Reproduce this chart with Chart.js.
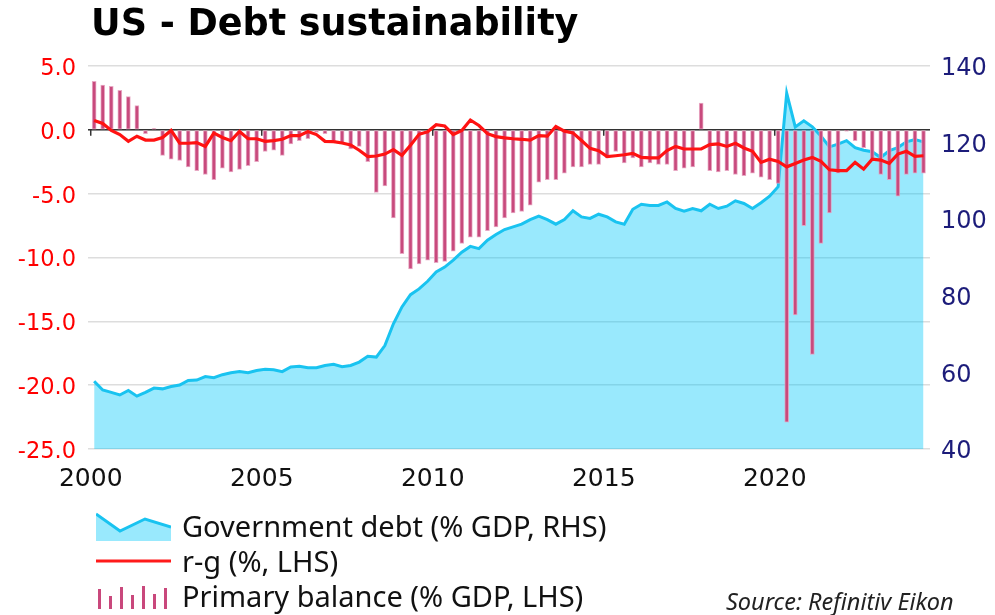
<!DOCTYPE html>
<html>
<head>
<meta charset="utf-8">
<script src="https://cdn.jsdelivr.net/npm/chart.js@4.4.1/dist/chart.umd.min.js"></script>
<style>
body { margin: 0; background: #fff; }
#wrap { position: relative; width: 995px; height: 615px; overflow: hidden; }
#title { position: absolute; left: 91px; top: 4px; font: bold 36.5px "DejaVu Sans"; line-height: 38px; color: #000; white-space: nowrap; }
#legend { position: absolute; left: 96px; top: 508px; font: 29px "Noto Sans"; color: #111; }
.row { display: flex; align-items: center; height: 35px; white-space: nowrap; }
.row svg { width: 75px; height: 30px; margin-right: 11px; flex: none; }
#source { position: absolute; left: 726px; top: 585px; font: italic 23.5px "Noto Sans"; color: #222; white-space: nowrap; }
</style>
</head>
<body>
<div id="wrap">
  <canvas id="chart" width="995" height="615"></canvas>
  <div id="title">US - Debt sustainability</div>
  <div id="legend">
    <div class="row">
      <svg viewBox="0 0 75 30"><polygon points="0,3 24,20 49,8 75,16 75,30 0,30" fill="rgba(0,200,250,0.4)"/><polyline points="0,3 24,20 49,8 75,16" fill="none" stroke="#19c3f0" stroke-width="3"/></svg>
      <span>Government debt (% GDP, RHS)</span>
    </div>
    <div class="row">
      <svg viewBox="0 0 75 30"><line x1="0" y1="15" x2="75" y2="15" stroke="#ff1a1a" stroke-width="3"/></svg>
      <span>r-g (%, LHS)</span>
    </div>
    <div class="row">
      <svg viewBox="0 0 75 30" shape-rendering="crispEdges"><g fill="#c9487c"><rect x="2" y="8" width="3" height="20"/><rect x="13" y="15" width="3" height="13"/><rect x="24" y="6" width="3" height="22"/><rect x="35" y="14" width="3" height="14"/><rect x="46" y="5" width="3" height="23"/><rect x="57" y="13" width="3" height="15"/><rect x="68" y="7" width="3" height="21"/></g></svg>
      <span>Primary balance (% GDP, LHS)</span>
    </div>
  </div>
  <div id="source">Source: Refinitiv Eikon</div>
</div>
<script>
// quarters 2000Q1 .. 2024Q2
var quarters = [];
for (let yr = 2000; yr <= 2024; yr++) {
    for (let q = 1; q <= 4; q++) quarters.push(yr + 'Q' + q);
}
quarters.length = 98;

var xTicks = [2000, 2005, 2010, 2015, 2020];
var leftTicks = [5, 0, -5, -10, -15, -20, -25];
var rightTicks = [140, 120, 100, 80, 60, 40];

// Government debt (% GDP, RHS)
var govDebt = [
    57.7, 55.4, 54.8, 54.1, 55.3, 53.8, 54.8, 55.9, 55.7, 56.3,
    56.7, 57.9, 58.0, 58.9, 58.6, 59.4, 59.9, 60.2, 59.9, 60.5,
    60.8, 60.7, 60.2, 61.4, 61.6, 61.2, 61.2, 61.8, 62.1, 61.5,
    61.8, 62.7, 64.2, 64.0, 67.0, 72.7, 77.1, 80.3, 81.8, 83.8,
    86.2, 87.5, 89.3, 91.4, 92.9, 92.3, 94.5, 96.0, 97.3, 98.0,
    98.7, 99.9, 100.8, 99.9, 98.7, 99.9, 102.2, 100.6, 100.2, 101.3,
    100.6, 99.3, 98.7, 102.6, 103.9, 103.6, 103.6, 104.5, 102.8, 102.1,
    102.8, 102.2, 103.9, 102.8, 103.4, 104.8, 104.1, 102.8, 104.3, 106.0,
    108.5, 132.9, 124.1, 125.7, 124.1, 121.7, 118.9, 119.6, 120.5, 118.7,
    118.0, 117.6, 116.1, 117.9, 118.7, 120.2, 120.8, 120.2
];

// r-g (%, LHS)
var rMinusG = [
    0.74, 0.5, -0.05, -0.37, -0.9, -0.5, -0.8, -0.8, -0.6, -0.05,
    -1.05, -1.05, -1.0, -1.3, -0.26, -0.6, -0.85, -0.13, -0.7, -0.7,
    -0.9, -0.85, -0.74, -0.45, -0.45, -0.13, -0.37, -0.9, -0.92, -1.03,
    -1.18, -1.6, -2.1, -2.05, -1.9, -1.55, -2.0, -1.2, -0.35, -0.15,
    0.4, 0.3, -0.37, -0.05, 0.77, 0.34, -0.3, -0.53, -0.63, -0.7,
    -0.74, -0.8, -0.45, -0.5, 0.26, -0.1, -0.24, -0.84, -1.45, -1.63,
    -2.1, -2.03, -1.95, -1.84, -2.16, -2.2, -2.2, -1.63, -1.3, -1.5,
    -1.5, -1.5, -1.16, -1.1, -1.3, -1.05, -1.42, -1.68, -2.55, -2.3,
    -2.47, -2.9, -2.63, -2.37, -2.16, -2.47, -3.13, -3.2, -3.2, -2.55,
    -3.08, -2.3, -2.37, -2.63, -1.9, -1.68, -2.08, -2.03
];

// Primary balance (% GDP, LHS)
var primaryBalance = [
    3.8, 3.5, 3.4, 3.1, 2.6, 1.9, -0.3, 0.1, -2.0, -2.3,
    -2.4, -2.9, -3.2, -3.5, -3.9, -3.0, -3.3, -3.1, -2.8, -2.5,
    -1.7, -1.6, -2.0, -1.1, -0.85, -0.7, -0.2, -0.3, -0.85, -1.0,
    -1.5, -1.3, -2.5, -4.9, -4.4, -6.9, -9.7, -10.9, -10.5, -10.2,
    -10.4, -10.3, -9.5, -8.9, -8.4, -8.4, -7.9, -7.6, -6.9, -6.5,
    -6.4, -5.9, -4.1, -3.9, -3.9, -3.4, -2.9, -2.9, -2.7, -2.7,
    -2.2, -1.7, -2.6, -2.2, -2.9, -2.6, -2.7, -2.7, -3.2, -3.0,
    -2.9, 2.1, -3.2, -3.3, -3.2, -3.5, -3.6, -3.4, -3.7, -3.9,
    -4.2, -22.9, -14.5, -7.5, -17.6, -8.9, -6.5, -3.4, -0.1, -0.85,
    -1.4, -2.3, -3.5, -3.9, -5.2, -3.5, -3.4, -3.4
];

function quarterX(label) {
    let yr = parseInt(label.slice(0, 4)), q = parseInt(label.slice(5));
    return yr + (q - 1) / 4 + 0.1;
}
function toPoints(values) {
    return values.map((v, i) => ({ x: quarterX(quarters[i]), y: v }));
}

// zero line with small year ticks
const zeroLine = {
    id: 'zeroLine',
    beforeDatasetsDraw(chart) {
        const { ctx, chartArea, scales } = chart;
        const y0 = scales.y.getPixelForValue(0);
        ctx.save();
        ctx.strokeStyle = '#333';
        ctx.lineWidth = 1.5;
        ctx.beginPath();
        ctx.moveTo(chartArea.left, y0);
        ctx.lineTo(chartArea.right, y0);
        xTicks.forEach(function(v) {
            let px = scales.x.getPixelForValue(v);
            ctx.moveTo(px, y0);
            ctx.lineTo(px, y0 + 6);
        });
        ctx.stroke();
        ctx.restore();
    }
};

Chart.defaults.font.family = 'DejaVu Sans';

const ctx = document.getElementById('chart').getContext('2d');
const chart = new Chart(ctx, {
    type: 'bar',
    data: {
        datasets: [{
            type: 'line',
            label: 'r-g (%, LHS)',
            data: toPoints(rMinusG),
            yAxisID: 'y',
            borderColor: '#ff1212',
            borderWidth: 3.2,
            pointRadius: 0,
            tension: 0,
            order: 0
        }, {
            type: 'bar',
            label: 'Primary balance (% GDP, LHS)',
            data: toPoints(primaryBalance),
            yAxisID: 'y',
            backgroundColor: '#c84a7d',
            borderColor: 'rgba(230,160,190,0.9)',
            borderWidth: 1,
            borderSkipped: false,
            barThickness: 4,
            order: 1
        }, {
            type: 'line',
            label: 'Government debt (% GDP, RHS)',
            data: toPoints(govDebt),
            yAxisID: 'y1',
            borderColor: '#19c3f0',
            borderWidth: 3,
            backgroundColor: 'rgba(0,200,250,0.4)',
            fill: 'start',
            pointRadius: 0,
            tension: 0,
            order: 2
        }]
    },
    options: {
        responsive: false,
        animation: false,
        layout: { padding: { top: 66, left: 0, right: 0, bottom: 0 } },
        scales: {
            x: {
                type: 'linear',
                offset: false,
                min: 1999.92,
                max: 2024.54,
                grid: { display: false, drawTicks: false },
                border: { display: false },
                afterBuildTicks: function(scale) {
                    scale.ticks = xTicks.map(v => ({ value: v }));
                },
                afterFit: function(scale) { scale.height = 166; },
                ticks: {
                    padding: 15,
                    color: '#111',
                    font: { size: 25 },
                    maxRotation: 0,
                    autoSkip: false,
                    callback: v => String(v)
                }
            },
            y: {
                position: 'left',
                min: -25,
                max: 5,
                afterBuildTicks: function(scale) {
                    scale.ticks = leftTicks.map(v => ({ value: v }));
                },
                afterFit: function(scale) { scale.width = 88; },
                grid: { color: '#dddddd', lineWidth: 1.5, drawTicks: false },
                border: { display: false },
                ticks: {
                    padding: 12,
                    labelOffset: 3,
                    color: '#ff0000',
                    font: { size: 22.5 },
                    callback: v => v.toFixed(1)
                }
            },
            y1: {
                position: 'right',
                min: 40,
                max: 140,
                afterBuildTicks: function(scale) {
                    scale.ticks = rightTicks.map(v => ({ value: v }));
                },
                afterFit: function(scale) { scale.width = 65; },
                grid: { display: false, drawTicks: false },
                border: { display: false },
                ticks: {
                    padding: 11,
                    labelOffset: 3,
                    color: '#1c1c7a',
                    font: { size: 24 },
                    callback: v => String(v)
                }
            }
        },
        plugins: {
            legend: { display: false },
            tooltip: { enabled: false }
        }
    },
    plugins: [zeroLine]
});
</script>
</body>
</html>
